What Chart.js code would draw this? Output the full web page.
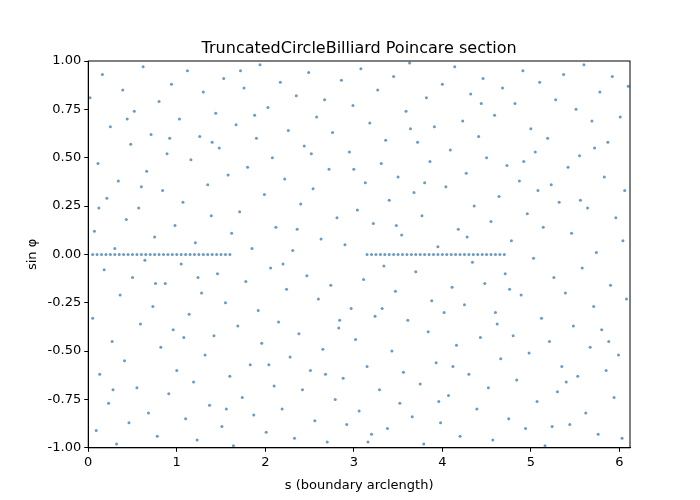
<!DOCTYPE html>
<html><head><meta charset="utf-8">
<script src="https://cdn.jsdelivr.net/npm/chart.js@4"></script>
<style>body{margin:0;background:#fff}#w{width:700px;height:500px}</style>
</head><body><div id="w"><canvas id="c"></canvas></div>
<script>
// scattered section points (estimated, x = s, y = sin phi)
const scatterPts = "0.02,0.81;0.05,-0.33;0.07,0.12;0.09,-0.91;0.11,0.47;0.13,-0.62;0.16,0.93;0.18,-0.08;0.21,0.29;0.23,-0.77;0.25,0.66;0.27,-0.45;0.3,0.03;0.32,-0.98;0.34,0.38;0.36,-0.21;0.39,0.85;0.41,-0.55;0.43,0.18;0.46,-0.87;0.48,0.57;0.5,-0.12;0.52,0.74;0.55,-0.69;0.57,0.24;0.59,-0.36;0.62,0.97;0.64,-0.03;0.66,0.43;0.68,-0.82;0.71,0.62;0.73,-0.27;0.75,0.09;0.78,-0.94;0.8,0.79;0.82,-0.48;0.84,0.33;0.87,-0.15;0.89,0.52;0.91,-0.72;0.94,0.88;0.96,-0.39;0.98,0.15;1.0,-0.6;1.03,0.7;1.05,-0.05;1.07,0.27;1.1,-0.85;1.12,0.95;1.14,-0.31;1.16,0.49;1.19,-0.66;1.21,0.06;1.23,-0.96;1.26,0.61;1.28,-0.2;1.3,0.84;1.32,-0.52;1.35,0.36;1.37,-0.78;1.39,0.2;1.42,-0.42;1.44,0.73;1.46,-0.1;1.48,0.55;1.51,-0.89;1.53,0.91;1.55,-0.25;1.58,0.41;1.6,-0.63;1.62,0.11;1.64,-0.99;1.67,0.67;1.69,-0.37;1.71,0.22;1.74,-0.74;1.76,0.86;1.78,-0.14;1.8,0.45;1.83,-0.57;1.85,0.03;1.87,-0.83;1.9,0.6;1.92,-0.29;1.94,0.98;1.96,-0.46;1.99,0.31;2.01,-0.92;2.03,0.76;2.06,-0.07;2.08,0.5;2.1,-0.68;2.12,0.14;2.15,-0.35;2.17,0.89;2.19,-0.8;2.22,0.39;2.24,-0.18;2.26,0.64;2.28,-0.53;2.31,0.02;2.33,-0.95;2.35,0.82;2.38,-0.41;2.4,0.26;2.42,-0.7;2.44,0.56;2.47,-0.11;2.49,0.94;2.51,-0.6;2.54,0.34;2.56,-0.86;2.58,0.71;2.6,-0.23;2.63,0.08;2.65,-0.49;2.67,0.8;2.7,-0.97;2.72,0.44;2.74,-0.16;2.76,0.63;2.79,-0.75;2.81,0.19;2.83,-0.38;2.86,0.9;2.88,-0.64;2.9,0.05;2.92,-0.88;2.95,0.53;2.97,-0.28;2.99,0.77;3.02,-0.44;3.04,0.23;3.06,-0.81;3.08,0.96;3.11,-0.13;3.13,0.37;3.15,-0.58;3.18,0.68;3.2,-0.93;3.22,0.16;3.24,-0.32;3.27,0.85;3.29,-0.7;3.31,0.47;3.34,-0.06;3.36,0.59;3.38,-0.9;3.4,0.28;3.43,-0.5;3.45,0.92;3.47,-0.19;3.5,0.4;3.52,-0.77;3.54,0.1;3.56,-0.61;3.59,0.74;3.61,-0.34;3.63,0.99;3.66,-0.84;3.68,0.32;3.7,-0.09;3.72,0.58;3.75,-0.67;3.77,0.2;3.79,-0.98;3.82,0.81;3.84,-0.4;3.86,0.48;3.88,-0.24;3.91,0.66;3.93,-0.56;3.95,0.04;3.98,-0.87;4.0,0.88;4.02,-0.3;4.04,0.35;4.07,-0.73;4.09,0.54;4.11,-0.17;4.14,0.97;4.16,-0.47;4.18,0.13;4.2,-0.94;4.23,0.69;4.25,-0.26;4.27,0.42;4.3,-0.62;4.32,0.83;4.34,-0.04;4.36,0.25;4.39,-0.8;4.41,0.61;4.43,-0.43;4.46,0.91;4.48,-0.15;4.5,0.5;4.52,-0.69;4.55,0.17;4.57,-0.96;4.59,0.72;4.62,-0.36;4.64,0.3;4.66,-0.54;4.68,0.86;4.71,-0.1;4.73,0.46;4.75,-0.85;4.78,0.07;4.8,-0.42;4.82,0.78;4.84,-0.65;4.87,0.38;4.89,-0.21;4.91,0.95;4.94,-0.9;4.96,0.21;4.98,-0.51;5.0,0.65;5.03,-0.02;5.05,0.53;5.07,-0.76;5.1,0.89;5.12,-0.33;5.14,0.14;5.16,-0.99;5.19,0.6;5.21,-0.45;5.23,0.36;5.26,-0.12;5.28,0.8;5.3,-0.71;5.32,0.27;5.35,-0.58;5.37,0.93;5.39,-0.2;5.42,0.45;5.44,-0.88;5.46,0.11;5.48,-0.37;5.51,0.75;5.53,-0.63;5.55,0.51;5.58,-0.07;5.6,0.98;5.62,-0.82;5.64,0.24;5.67,-0.48;5.69,0.69;5.71,-0.27;5.74,0.01;5.76,-0.93;5.78,0.84;5.8,-0.39;5.83,0.4;5.85,-0.6;5.87,0.58;5.9,-0.16;5.92,0.92;5.94,-0.74;5.96,0.19;5.99,-0.52;6.01,0.71;6.03,-0.95;6.06,0.33;6.08,-0.23;6.1,0.87;0.12,0.24;0.44,0.7;0.76,-0.15;1.08,-0.43;1.4,0.58;1.72,0.95;2.04,-0.57;2.36,0.13;2.68,-0.62;3.0,0.44;3.32,-0.28;3.64,0.65;3.96,-0.76;4.28,0.09;4.6,-0.3;4.92,0.48;5.24,-0.89;5.56,0.28;5.88,-0.45;0.28,-0.7;0.6,0.35;0.92,0.6;1.24,-0.12;1.56,-0.8;1.88,0.72;2.2,-0.05;2.52,0.52;2.84,-0.34;3.16,-0.97;3.48,0.15;3.8,0.37;4.12,-0.58;4.44,0.78;4.76,-0.18;5.08,0.33;5.4,-0.66;5.72,0.55;6.04,0.07";
const points = scatterPts.split(";").map(p => { const [x, y] = p.split(",").map(Number); return {x, y}; });
// rows of points lying on sin phi = 0
const zeroRowX = [0.05,0.1,0.15,0.2,0.25,0.3,0.35,0.4,0.45,0.5,0.55,0.6,0.65,0.7,0.75,0.8,0.85,0.9,0.95,1.0,1.05,1.1,1.15,1.2,1.25,1.3,1.35,1.4,1.45,1.5,1.55,1.6,
  3.15,3.2,3.25,3.3,3.35,3.4,3.45,3.5,3.55,3.6,3.65,3.7,3.75,3.8,3.85,3.9,3.95,4.0,4.05,4.1,4.15,4.2,4.25,4.3,4.35,4.4,4.45,4.5,4.55,4.6,4.65,4.7];
const xTicks = [0,1,2,3,4,5,6];
const yTicks = [-1,-0.75,-0.5,-0.25,0,0.25,0.5,0.75,1];
const xMax = 6.12;
const titleText = 'TruncatedCircleBilliard Poincare section';

const allPts = points.concat(zeroRowX.map(x => ({x, y: 0})));
const tickFont = {family: 'DejaVu Sans', size: 13};
const gridOpt = {display: true, drawOnChartArea: false, drawTicks: true, tickLength: 4, color: '#000'};
new Chart(document.getElementById('c'), {
  type: 'scatter',
  data: {datasets: [{data: allPts, backgroundColor: 'rgba(70,130,180,0.8)', borderWidth: 0, pointRadius: 1.5}]},
  options: {
    responsive: true, maintainAspectRatio: false, animation: false,
    layout: {padding: {left: 21, right: 70, top: 61, bottom: 3}},
    plugins: {legend: {display: false}, tooltip: {enabled: false}, title: {display: false}},
    scales: {
      x: {type: 'linear', min: 0, max: xMax, grid: gridOpt,
        border: {color: '#000'},
        afterBuildTicks: a => { a.ticks = xTicks.map(v => ({value: v})); },
        ticks: {color: '#000', font: tickFont, autoSkip: false, maxRotation: 0},
        title: {display: true, text: 's (boundary arclength)', color: '#000', font: tickFont}},
      y: {min: -1, max: 1, grid: gridOpt,
        border: {color: '#000'},
        afterBuildTicks: a => { a.ticks = yTicks.map(v => ({value: v})); },
        ticks: {color: '#000', font: tickFont, callback: v => v.toFixed(2)},
        title: {display: true, text: 'sin φ', color: '#000', font: tickFont}}
    }
  },
  plugins: [{id: 'frame', afterDraw(ch) { const {ctx, chartArea: a} = ch; ctx.save(); ctx.strokeStyle = '#000'; ctx.lineWidth = 1; ctx.strokeRect(a.left, a.top, a.right - a.left, a.bottom - a.top);
    ctx.fillStyle = '#000'; ctx.font = '16px "DejaVu Sans"'; ctx.textAlign = 'center'; ctx.textBaseline = 'alphabetic'; ctx.fillText(titleText, (a.left + a.right) / 2, a.top - 8); ctx.restore(); }}]
});
</script></body></html>
